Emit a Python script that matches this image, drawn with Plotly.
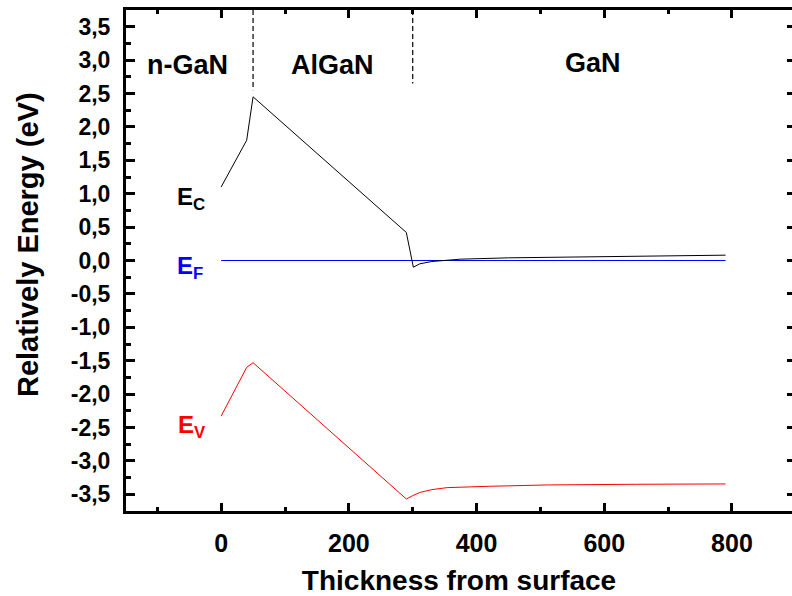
import plotly.graph_objects as go

# Band diagram data
ec_x = [0, 40, 50, 290, 301, 311, 330, 375, 450, 550, 650, 790]
ec_y = [1.10, 1.80, 2.45, 0.42, -0.10, -0.05, -0.015, 0.02, 0.04, 0.055, 0.07, 0.08]

ev_x = [0, 40, 50, 290, 300, 312, 330, 354, 420, 511, 650, 790]
ev_y = [-2.33, -1.60, -1.53, -3.57, -3.52, -3.47, -3.43, -3.40, -3.38, -3.36, -3.35, -3.345]

ef_x = [0, 790]
ef_y = [0.0, 0.0]

# Layer boundaries (dashed markers)
boundary_x = [50, 300]
boundary_y_low = [2.55, 2.65]
y_top = 3.75

region_labels = ["n-GaN", "AlGaN", "GaN"]
region_x = [-52, 174, 583]
region_y = [2.92, 2.92, 2.95]

band_labels = ["E<sub>C</sub>", "E<sub>F</sub>", "E<sub>V</sub>"]
band_label_x = [-73, -72, -71]
band_label_y = [0.93, -0.10, -2.48]
band_colors = ["#000000", "#0000ff", "#ff0000"]

y_tickvals = [3.5, 3.0, 2.5, 2.0, 1.5, 1.0, 0.5, 0.0, -0.5, -1.0, -1.5, -2.0, -2.5, -3.0, -3.5]
y_ticktext = ["3,5", "3,0", "2,5", "2,0", "1,5", "1,0", "0,5", "0,0", "-0,5", "-1,0",
              "-1,5", "-2,0", "-2,5", "-3,0", "-3,5"]
x_tickvals = [0, 200, 400, 600, 800]
x_ticktext = ["0", "200", "400", "600", "800"]

FONT = "Liberation Sans, Arial, sans-serif"

fig = go.Figure()

for bx, by in zip(boundary_x, boundary_y_low):
    fig.add_trace(go.Scatter(x=[bx, bx], y=[y_top, by], mode="lines",
                             line=dict(color="black", width=1.2, dash="5px,3px"),
                             showlegend=False, hoverinfo="skip"))

fig.add_trace(go.Scatter(x=ef_x, y=ef_y, mode="lines", line=dict(color="#0000ff", width=1),
                         name="E_F", showlegend=False))
fig.add_trace(go.Scatter(x=ec_x, y=ec_y, mode="lines", line=dict(color="black", width=1),
                         name="E_C", showlegend=False))
fig.add_trace(go.Scatter(x=ev_x, y=ev_y, mode="lines", line=dict(color="#ff0000", width=1),
                         name="E_V", showlegend=False))

annotations = []
for t, x, y in zip(region_labels, region_x, region_y):
    annotations.append(dict(x=x, y=y, xref="x", yref="y", text="<b>" + t + "</b>", showarrow=False,
                            font=dict(family=FONT, size=27, color="black"),
                            xanchor="center", yanchor="middle"))
for t, x, y, c in zip(band_labels, band_label_x, band_label_y, band_colors):
    annotations.append(dict(x=x, y=y, xref="x", yref="y", text="<b>" + t + "</b>", showarrow=False,
                            font=dict(family=FONT, size=24, color=c),
                            xanchor="left", yanchor="middle"))
annotations.append(dict(x=-0.147, y=0.531, xref="paper", yref="paper",
                        text="<b>Relatively Energy (eV)</b>",
                        showarrow=False, textangle=-90,
                        font=dict(family=FONT, size=29, color="black"),
                        xanchor="center", yanchor="middle"))

fig.update_layout(
    width=792, height=596,
    margin=dict(l=126, r=0, t=10, b=85),
    paper_bgcolor="white", plot_bgcolor="white",
    font=dict(family=FONT, color="black"),
    showlegend=False,
    xaxis=dict(range=[-149, 894], showgrid=False, zeroline=False,
               showline=True, linewidth=3, linecolor="black", mirror="ticks",
               ticks="inside", ticklen=8, tickwidth=3, tickcolor="black",
               tickvals=x_tickvals, ticktext=["<b>" + t + "</b>" for t in x_ticktext],
               tickfont=dict(family=FONT, size=25, color="black"),
               ticklabelstandoff=8,
               minor=dict(ticks="inside", ticklen=4, tickwidth=3, tickcolor="black",
                          tick0=-100, dtick=200),
               title=dict(text="<b>Thickness from surface</b>",
                          font=dict(family=FONT, size=28, color="black"), standoff=16)),
    yaxis=dict(range=[-3.75, 3.75], showgrid=False, zeroline=False,
               showline=True, linewidth=3, linecolor="black", mirror=False,
               ticks="inside", ticklen=9, tickwidth=3, tickcolor="black",
               tickvals=y_tickvals, ticktext=["<b>" + t + "</b>" for t in y_ticktext],
               tickfont=dict(family=FONT, size=23, color="black"),
               ticklabelstandoff=8,
               minor=dict(ticks="inside", ticklen=5, tickwidth=3, tickcolor="black",
                          tick0=0.25, dtick=0.5)),
    yaxis2=dict(range=[-3.75, 3.75], overlaying="y", side="right", anchor="x",
                showgrid=False, zeroline=False, showline=False,
                ticks="inside", ticklen=5, tickwidth=3, tickcolor="black",
                tickvals=y_tickvals, showticklabels=False),
    annotations=annotations,
)

# make yaxis2 render by attaching an invisible copy of E_F
fig.add_trace(go.Scatter(x=ef_x, y=ef_y, yaxis="y2", mode="lines",
                         line=dict(color="rgba(0,0,0,0)", width=0),
                         showlegend=False, hoverinfo="skip"))

fig.write_html("out.html")
